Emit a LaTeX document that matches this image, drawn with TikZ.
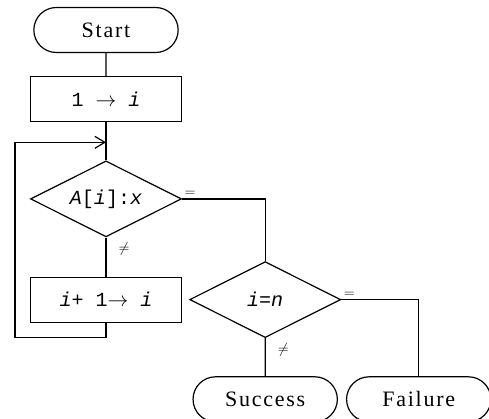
\documentclass[tikz,border=0pt]{standalone}
\usepackage{fontspec}
\setmainfont{Liberation Serif}[LetterSpace=8]
\newfontfamily\codefont{Liberation Mono}
\usetikzlibrary{positioning,arrows.meta,shapes.geometric,shapes.misc,calc}
\tikzset{
  terminal/.style={draw,rounded rectangle,line width=1.2pt,minimum width=151pt,
            minimum height=45pt,font=\fontsize{22}{26}\selectfont},
  process/.style={draw,line width=1.2pt,minimum width=151pt,minimum height=45pt,
            font=\codefont\fontsize{20}{24}\selectfont},
  decision/.style={draw,diamond,aspect=2,line width=1.2pt,minimum width=151pt,
            minimum height=76pt,inner sep=0pt,font=\codefont\fontsize{20}{24}\selectfont},
  flow/.style={line width=1.2pt},
  loopback/.style={flow,-{Straight Barb[length=10pt,width=12pt]}},
  cond/.style={font=\fontsize{15}{18}\selectfont,inner sep=2pt},
}

\begin{document}
\begin{tikzpicture}
  \useasboundingbox (0,0) rectangle (489pt,-418pt);
  \node[terminal] (start) at (106pt,-30pt) {Start};
  \node[process,below=23pt of start] (init) {1 $\rightarrow$ \textit{i}};
  \coordinate[below=20pt of init] (merge);
  \node[decision,below=38pt of init] (cmp) {\textit{A}[\textit{i}]:\textit{x}};
  \node[process,below=39pt of cmp] (incr) {\textit{i}+ 1$\rightarrow$ \textit{i}};
  \node[decision,right=7pt of incr] (check) {\textit{i}=\textit{n}};
  \node[terminal,below=38pt of check] (succ) {Success};
  \node[terminal,right=8pt of succ] (fail) {Failure};

  \draw[flow] (start) -- (init);
  \draw[flow] (init) -- (cmp);
  \draw[flow] (cmp) -- node[cond,pos=0.3,right=10pt] {$\neq$} (incr);
  \draw[flow] (cmp.east) node[cond,above right] {$=$} -| (check.north);
  \draw[flow] (check) -- node[cond,pos=0.3,right=10pt] {$\neq$} (succ);
  \draw[flow] (check.east) node[cond,above right] {$=$} -| (fail.north);
  \draw[loopback] (incr.south) -- ++(0,-15pt)
    -| ($(incr.west |- merge)+(-15pt,0)$) -- (merge);
\end{tikzpicture}
\end{document}
